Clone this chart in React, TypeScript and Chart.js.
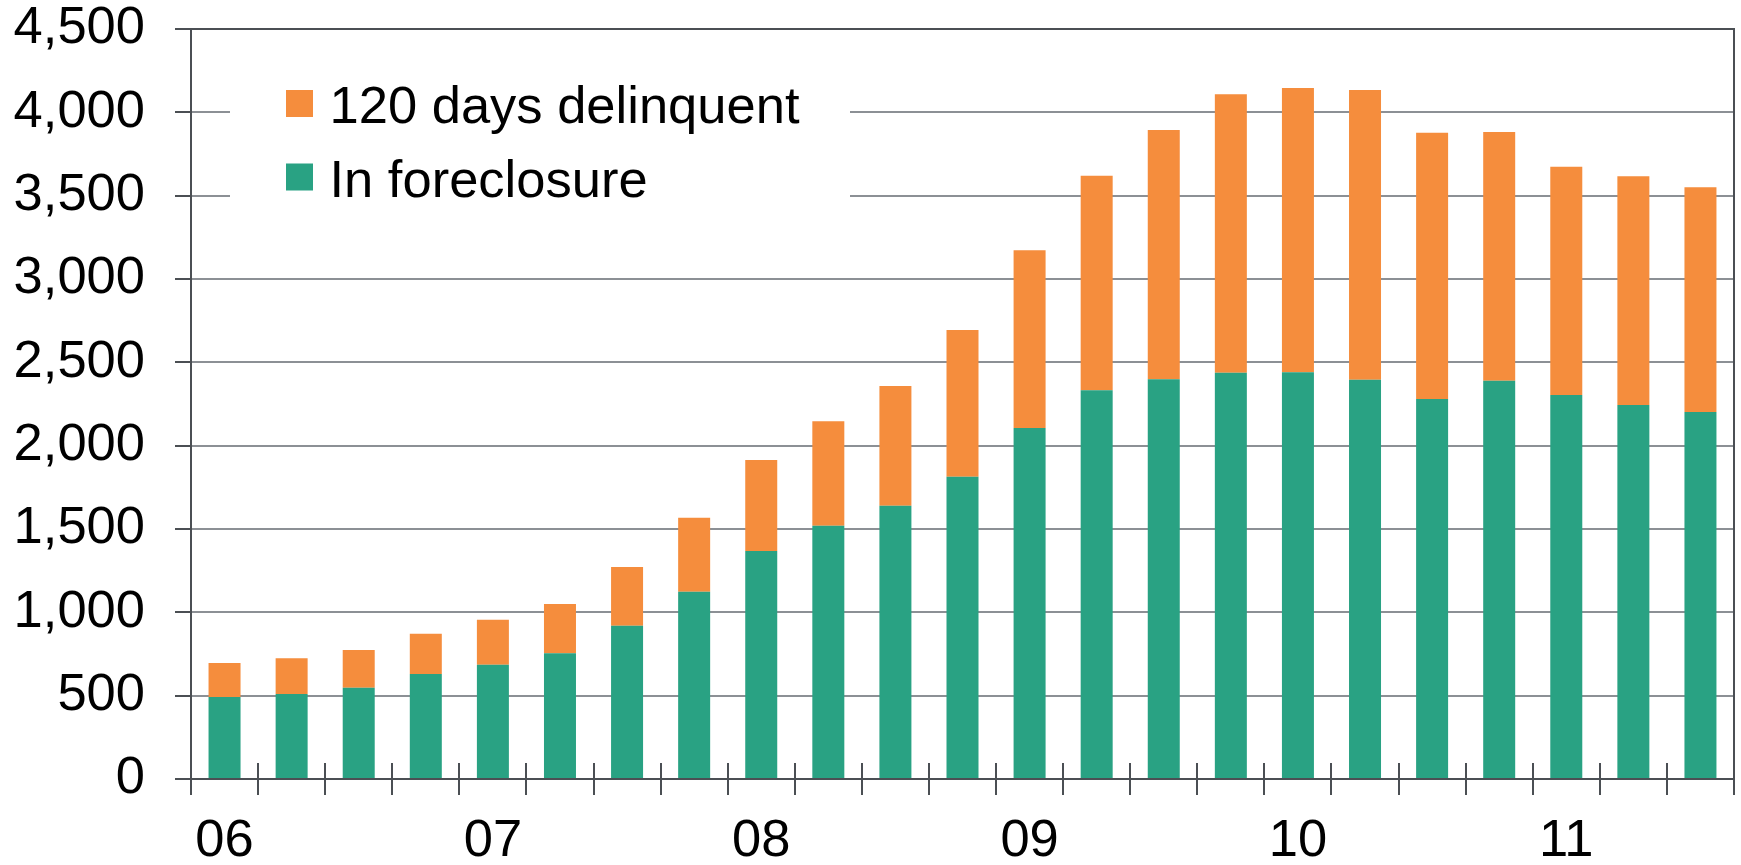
import React, { useEffect, useRef } from 'react';
import { Chart, registerables } from 'chart.js';

Chart.register(...registerables);

// Quarterly categories, 2006 Q1 – 2011 Q3
const categories = [
  '06 Q1', '06 Q2', '06 Q3', '06 Q4',
  '07 Q1', '07 Q2', '07 Q3', '07 Q4',
  '08 Q1', '08 Q2', '08 Q3', '08 Q4',
  '09 Q1', '09 Q2', '09 Q3', '09 Q4',
  '10 Q1', '10 Q2', '10 Q3', '10 Q4',
  '11 Q1', '11 Q2', '11 Q3',
];

// In foreclosure (thousands)
const foreclosure = [
  492, 510, 548, 630,
  686, 754, 920, 1124,
  1368, 1520, 1640, 1814,
  2106, 2332, 2398, 2438,
  2440, 2396, 2280, 2390,
  2304, 2244, 2202,
];

// 120 days delinquent (thousands), stacked on top
const delinquent = [
  204, 214, 226, 242,
  270, 296, 352, 444,
  546, 626, 718, 880,
  1066, 1288, 1496, 1670,
  1706, 1738, 1598, 1492,
  1370, 1372, 1348,
];

const seriesLabels = ['In foreclosure', '120 days delinquent'];

const Y_MIN = 0;
const Y_MAX = 4500;
const Y_STEP = 500;

const FONT = '"Liberation Sans", Arial, Helvetica, sans-serif';
const FONT_SIZE = 52.5;
const AXIS = '#4b4f54';
const GRID = '#8c9095';
const GREEN = '#29a283';
const ORANGE = '#f58d3d';

const overlayPlugin = {
  id: 'overlay',
  afterDraw(chart: any) {
    const { ctx, chartArea: a } = chart;
    const x = chart.scales.x;
    ctx.save();
    ctx.strokeStyle = AXIS;
    ctx.lineWidth = 2;
    // top and right frame
    ctx.beginPath();
    ctx.moveTo(a.left, a.top);
    ctx.lineTo(a.right, a.top);
    ctx.lineTo(a.right, a.bottom + 16);
    ctx.stroke();
    // tick marks crossing the x axis (upper halves)
    for (let i = 1; i < categories.length; i++) {
      const px = Math.round((x.getPixelForValue(i - 1) + x.getPixelForValue(i)) / 2);
      ctx.beginPath();
      ctx.moveTo(px, a.bottom - 16);
      ctx.lineTo(px, a.bottom);
      ctx.stroke();
    }
    // legend with white background
    ctx.fillStyle = '#ffffff';
    ctx.fillRect(230, 46, 620, 216);
    const ds = chart.data.datasets.slice().reverse();
    ctx.font = `${FONT_SIZE}px ${FONT}`;
    ctx.textBaseline = 'alphabetic';
    ctx.textAlign = 'left';
    ds.forEach((d: any, i: number) => {
      const top = 90 + i * 73.5;
      ctx.fillStyle = d.backgroundColor;
      ctx.fillRect(286, top, 27, 27);
      ctx.fillStyle = '#000000';
      ctx.fillText(d.label, 329.5, top + 33.3);
    });
    ctx.restore();
  },
};

export default function App() {
  const ref = useRef<HTMLCanvasElement | null>(null);

  useEffect(() => {
    document.body.style.margin = '0';
    const canvas = ref.current;
    if (!canvas) return;
    const chart = new Chart(canvas, {
      type: 'bar',
      data: {
        labels: categories,
        datasets: [
          {
            label: seriesLabels[0],
            data: foreclosure,
            backgroundColor: GREEN,
            borderWidth: 0,
            barPercentage: 0.477,
            categoryPercentage: 1,
          },
          {
            label: seriesLabels[1],
            data: delinquent,
            backgroundColor: ORANGE,
            borderWidth: 0,
            barPercentage: 0.477,
            categoryPercentage: 1,
          },
        ],
      },
      options: {
        responsive: false,
        animation: false,
        devicePixelRatio: 1,
        layout: { padding: { top: 29, right: 7, left: 0, bottom: 0 } },
        plugins: {
          legend: { display: false },
          tooltip: { enabled: false },
        },
        scales: {
          x: {
            stacked: true,
            offset: true,
            grid: {
              offset: true,
              drawOnChartArea: false,
              drawTicks: true,
              tickLength: 16,
              color: AXIS,
              tickColor: AXIS,
              lineWidth: 2,
            },
            border: { display: true, color: AXIS, width: 2 },
            ticks: {
              autoSkip: false,
              maxRotation: 0,
              minRotation: 0,
              padding: 15,
              color: '#000000',
              font: { family: FONT, size: FONT_SIZE },
              callback: (_v: any, i: number) => (i % 4 === 0 ? categories[i].slice(0, 2) : ''),
            },
            afterFit: (s: any) => {
              s.height = 86;
              s.paddingLeft = 0;
              s.paddingRight = 0;
            },
          },
          y: {
            stacked: true,
            min: Y_MIN,
            max: Y_MAX,
            grid: {
              color: GRID,
              lineWidth: 2,
              tickLength: 16,
              tickColor: AXIS,
            },
            border: { display: true, color: AXIS, width: 2 },
            ticks: {
              stepSize: Y_STEP,
              padding: 30,
              color: '#000000',
              font: { family: FONT, size: FONT_SIZE, lineHeight: 1 },
              callback: (v: any) => Number(v).toLocaleString('en-US'),
            },
            afterFit: (s: any) => {
              s.width = 191;
              s.paddingTop = 0;
              s.paddingBottom = 0;
            },
          },
        },
      },
      plugins: [overlayPlugin],
    });
    return () => chart.destroy();
  }, []);

  return (
    <div style={{ position: 'absolute', left: 0, top: 0, width: 1741, height: 865, background: '#fff' }}>
      <canvas ref={ref} width={1741} height={865} style={{ display: 'block' }} />
    </div>
  );
}
